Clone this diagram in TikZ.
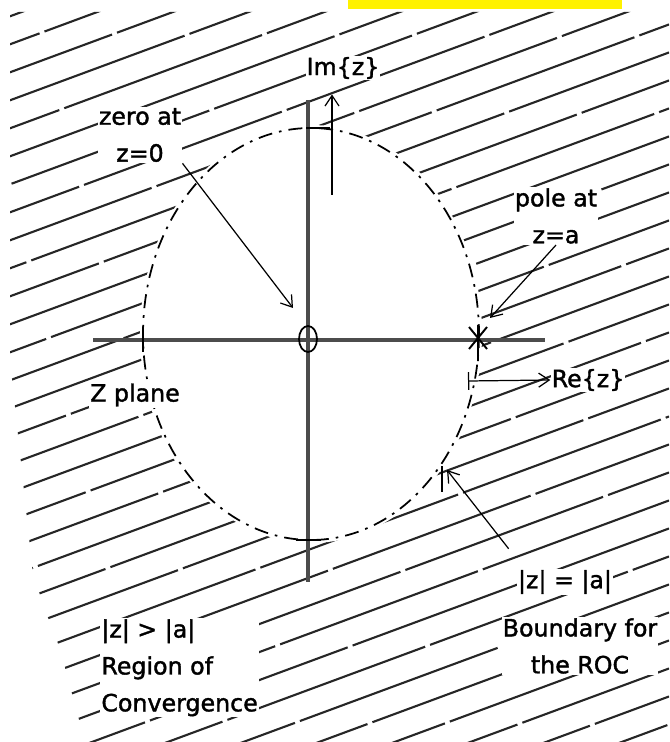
\documentclass[tikz,border=0pt]{standalone}
\usepackage{fontspec}
\setmainfont{DejaVu Sans}
\newfontfamily\lblfont{DejaVu Sans}[FakeBold=1.5]
\usetikzlibrary{arrows.meta}

\tikzset{
    hatch/.style={line width=1.2pt, black!85, dash pattern=on 120pt off 3pt},
    axis/.style={line width=2pt, black!70},
    pointer/.style={->, line width=0.7pt},
    tickmark/.style={line width=0.8pt},
    lbl/.style={font=\lblfont\fontsize{13.5}{21}\selectfont, fill=white, inner sep=0.6pt},
}

\begin{document}
\begin{tikzpicture}[x=0.02cm, y=-0.02cm, >={Straight Barb[length=6pt, width=8pt]}]
    \useasboundingbox (0,0) rectangle (669,742);
    \fill[yellow] (348,0) rectangle (622,9);

    % hatching outside |z|=|a|
    \begin{scope}
        \clip (10,12) -- (669,12) -- (669,742) -- (85,742) -- (63,660) -- (33,575) -- (10,360) -- cycle;
        \foreach \c [evaluate=\c as \ph using {mod(\c*7,120)}] in {20,48,...,1010}
            \draw[hatch, dash phase=\ph pt] (0,\c) -- (669,{\c-0.37*669});
    \end{scope}
    \fill[white] (311,334) ellipse [x radius=171, y radius=209];

    \draw[line width=1pt, dash pattern=on 8pt off 4pt on 1.5pt off 4pt]
        (311,334) ellipse [x radius=168, y radius=206];

    \draw[axis] (93,340) -- (545,340);
    \draw[axis] (308,100) -- (308,582);

    \draw[tickmark] (143,328) -- (143,352);
    \draw[tickmark] (306,128) -- (330,128);
    \draw[tickmark] (296,540) -- (321,540);
    \draw[tickmark] (442,466) -- (442,492);

    % zero and pole
    \coordinate (O) at (308,339);
    \coordinate (P) at (478,338);
    \draw[line width=1pt] (O) ellipse [x radius=9, y radius=13];
    \draw[line width=1.1pt] (P) ++(-9,-11) -- ++(18,22)
        (P) ++(-9,11) -- ++(18,-22)
        (P) ++(0,-13) -- ++(0,36);

    \node[lbl] (imlbl) at (343,68) {Im\{z\}};
    \node[lbl] (relbl) at (588,380) {Re\{z\}};
    \node[lbl] (zplane) at (135,395) {Z plane};
    \node[lbl, align=center] (zerolbl) at (140,135) {zero at\\z=0};
    \node[lbl, align=center] (polelbl) at (556,216) {pole at\\z=a};
    \node[lbl, align=left, anchor=north west] (roclbl) at (100,618)
        {|z| > |a|\\Region of\\Convergence};
    \node[lbl] (eqlbl) at (565,582) {|z| = |a|};
    \node[lbl, align=center] (bdlbl) at (580,646) {Boundary for\\the ROC};

    \coordinate (imbase) at (332,195);
    \coordinate (rebase) at (468,381);
    \coordinate (zerotip) at (293,308);
    \coordinate (poletip) at (490,318);
    \coordinate (bdtip) at (447,470);

    \draw[pointer, shorten >=8pt] (imbase) -- (imbase |- imlbl.south);
    \draw[line width=0.7pt, {Bar[width=10pt]}->] (rebase) -- (relbl.west);
    \draw[pointer] (zerolbl.south east) -- (zerotip);
    \draw[pointer] (polelbl.south) -- (poletip);
    \draw[pointer] ([shift={(-8,-20)}]eqlbl.north west) -- (bdtip);
\end{tikzpicture}
\end{document}
